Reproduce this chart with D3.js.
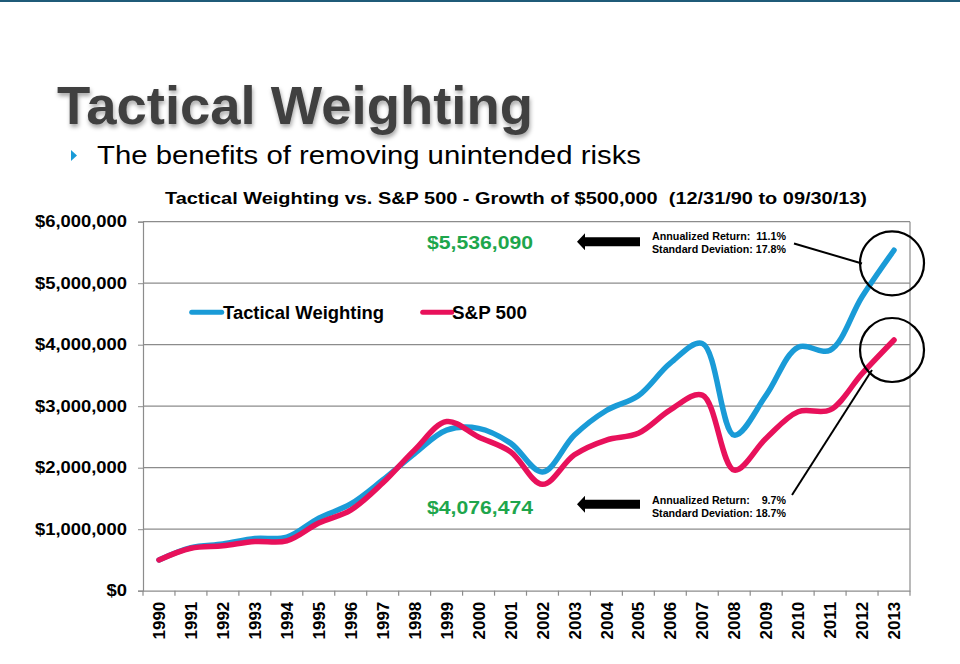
<!DOCTYPE html>
<html><head><meta charset="utf-8">
<script src="https://cdn.jsdelivr.net/npm/d3@7/dist/d3.min.js"></script>
<style>body{margin:0;background:#fff}svg{display:block}</style>
</head><body><svg id="c" width="960" height="664"></svg>
<script>
const years = ["1990","1991","1992","1993","1994","1995","1996","1997","1998","1999","2000","2001","2002","2003","2004","2005","2006","2007","2008","2009","2010","2011","2012","2013"];
const tactical = [500000,700000,760000,850000,870000,1180000,1410000,1800000,2230000,2610000,2640000,2400000,1930000,2530000,2930000,3170000,3700000,4020000,2530000,3180000,3960000,3910000,4780000,5536090];
const sp500 = [500000,690000,730000,800000,810000,1100000,1310000,1750000,2290000,2750000,2500000,2260000,1730000,2210000,2450000,2560000,2940000,3180000,1960000,2480000,2910000,2940000,3530000,4076474];
const yTicks = [0,1000000,2000000,3000000,4000000,5000000,6000000];
const seriesNames = ["Tactical Weighting","S&P 500"];
const finalLabels = ["$5,536,090","$4,076,474"];
const statLines = [["Annualized Return:  11.1%","Standard Deviation: 17.8%"],["Annualized Return:    9.7%","Standard Deviation: 18.7%"]];
const colors = ["#1a9bd7","#e8115b"];

const svg = d3.select("#c");
const L = 143, R = 910, T = 221.7, B = 590.7;
const x = d3.scaleBand().domain(years).range([L, R]).padding(0);
const y = d3.scaleLinear().domain([0, 6000000]).range([B, T]);
const cx = d => x(d) + x.bandwidth()/2;
const FF = "Liberation Sans, Arial, sans-serif";

// top rule
svg.append("rect").attr("x",0).attr("y",0).attr("width",960).attr("height",2).attr("fill","#1f5b78");

// heading with shadow
const defs = svg.append("defs");
const f = defs.append("filter").attr("id","sh").attr("x","-5%").attr("y","-20%").attr("width","110%").attr("height","150%");
f.append("feDropShadow").attr("dx",1).attr("dy",3).attr("stdDeviation",2).attr("flood-color","#000").attr("flood-opacity",0.35);
svg.append("text").attr("x",57).attr("y",124).attr("font-family",FF)
  .attr("font-weight","bold").attr("font-size",54).attr("fill","#414141").attr("filter","url(#sh)")
  .attr("textLength",476).attr("lengthAdjust","spacingAndGlyphs").text("Tactical Weighting");
svg.append("path").attr("d","M71,150 L77,155.5 L71,161 Z").attr("fill","#1a9bd7");
svg.append("text").attr("x",97).attr("y",164).attr("font-family",FF)
  .attr("font-size",25).attr("fill","#000").attr("textLength",544).attr("lengthAdjust","spacingAndGlyphs")
  .text("The benefits of removing unintended risks");

// chart title
svg.append("text").attr("x",516).attr("y",204).attr("text-anchor","middle").attr("font-family",FF)
  .attr("font-weight","bold").attr("font-size",16).attr("fill","#000").attr("xml:space","preserve")
  .attr("textLength",702).attr("lengthAdjust","spacingAndGlyphs")
  .text("Tactical Weighting vs. S&P 500 - Growth of $500,000  (12/31/90 to 09/30/13)");

// gridlines
svg.append("g").selectAll("line").data(yTicks.slice(1)).join("line")
  .attr("x1",L).attr("x2",R).attr("y1",d=>y(d)).attr("y2",d=>y(d)).attr("stroke","#8c8c8c").attr("stroke-width",1.2);
svg.append("line").attr("x1",R).attr("x2",R).attr("y1",T).attr("y2",B).attr("stroke","#8c8c8c").attr("stroke-width",1.2);

// y axis
const fmt = d => "$" + d3.format(",")(d);
const ya = svg.append("g").attr("transform",`translate(${L},0)`)
  .call(d3.axisLeft(y).tickValues(yTicks).tickFormat(fmt).tickSize(5).tickPadding(11));
ya.select(".domain").attr("stroke","#8c8c8c").attr("stroke-width",1.2);
ya.selectAll(".tick line").attr("stroke","#8c8c8c");
ya.selectAll(".tick text").attr("font-family",FF).attr("font-weight","bold").attr("font-size",16.5).attr("fill","#000")
  .each(function(d){ const s = fmt(d); const em = s.replace(/[^0-9$]/g,"").length*0.556 + (s.match(/,/g)||[]).length*0.278;
    d3.select(this).attr("textLength", em*18.4).attr("lengthAdjust","spacingAndGlyphs"); });

// x axis
const xa = svg.append("g").attr("transform",`translate(0,${B})`)
  .call(d3.axisBottom(x).tickSize(0).tickPadding(0));
xa.select(".domain").attr("stroke","#8c8c8c").attr("stroke-width",1.2);
xa.selectAll(".tick text").attr("transform","rotate(-90)").attr("text-anchor","end").attr("dy","0.36em")
  .attr("x",-11).attr("y",0)
  .attr("font-family",FF).attr("font-weight","bold").attr("font-size",17).attr("fill","#000");
svg.append("g").selectAll("line").data(years.concat(["end"])).join("line")
  .attr("x1",(d,i)=> i<years.length ? x(d) : R).attr("x2",(d,i)=> i<years.length ? x(d) : R)
  .attr("y1",B).attr("y2",B+5).attr("stroke","#8c8c8c").attr("stroke-width",1.2);

// lines
const line = d3.line().x((d,i)=>cx(years[i])).y(d=>y(d)).curve(d3.curveCatmullRom.alpha(0.5));
[tactical, sp500].forEach((s,k)=>{
  svg.append("path").attr("d",line(s)).attr("fill","none").attr("stroke",colors[k]).attr("stroke-width",5.5)
    .attr("stroke-linecap","round").attr("stroke-linejoin","round");
});

// legend
const lg = [[191.7,221.7,223,161,seriesNames[0]],[422.7,451.7,452,75,seriesNames[1]]];
lg.forEach((d,k)=>{
  svg.append("line").attr("x1",d[0]).attr("x2",d[1]).attr("y1",312.3).attr("y2",312.3).attr("stroke",colors[k]).attr("stroke-width",5).attr("stroke-linecap","round");
  svg.append("text").attr("x",d[2]).attr("y",318.5).attr("font-family",FF).attr("font-weight","bold")
    .attr("font-size",17.5).attr("fill","#000").attr("textLength",d[3]).attr("lengthAdjust","spacingAndGlyphs").text(d[4]);
});

// final value labels
const last = years.length-1;
const labelY = [243.3, 508.3];
finalLabels.forEach((t,k)=>{
  svg.append("text").attr("x",480).attr("y",labelY[k]+6).attr("text-anchor","middle")
    .attr("font-family",FF).attr("font-weight","bold").attr("font-size",17.5)
    .attr("fill","#1ea64c").attr("textLength",106).attr("lengthAdjust","spacingAndGlyphs").text(t);
});

// arrows
const arrowY = [241.7, 504.3];
arrowY.forEach(ay=>{
  svg.append("path").attr("d",`M577,${ay} L585,${ay-8.5} L585,${ay-4.5} L640,${ay-4.5} L640,${ay+4.5} L585,${ay+4.5} L585,${ay+8.5} Z`).attr("fill","#000");
});

// stats text
const statY = [[236,249],[500,513]];
statLines.forEach((ls,k)=>{
  ls.forEach((t,j)=>{
    svg.append("text").attr("x",652).attr("y",statY[k][j]+4).attr("xml:space","preserve")
      .attr("font-family","Liberation Sans Narrow, Liberation Sans, Arial, sans-serif").attr("font-weight","bold")
      .attr("font-size",10.5).attr("fill","#000").attr("textLength",134).attr("lengthAdjust","spacingAndGlyphs").text(t);
  });
});

// circles around end points
const cy = [263.3, 350];
cy.forEach(c=>{
  svg.append("circle").attr("cx",cx(years[last])-2).attr("cy",c).attr("r",32).attr("fill","none").attr("stroke","#000").attr("stroke-width",2.2);
});
// leader lines
svg.append("line").attr("x1",794).attr("y1",243.5).attr("x2",862).attr("y2",263.5).attr("stroke","#000").attr("stroke-width",2);
svg.append("line").attr("x1",792).attr("y1",495).attr("x2",872).attr("y2",370).attr("stroke","#000").attr("stroke-width",2);
</script></body></html>
